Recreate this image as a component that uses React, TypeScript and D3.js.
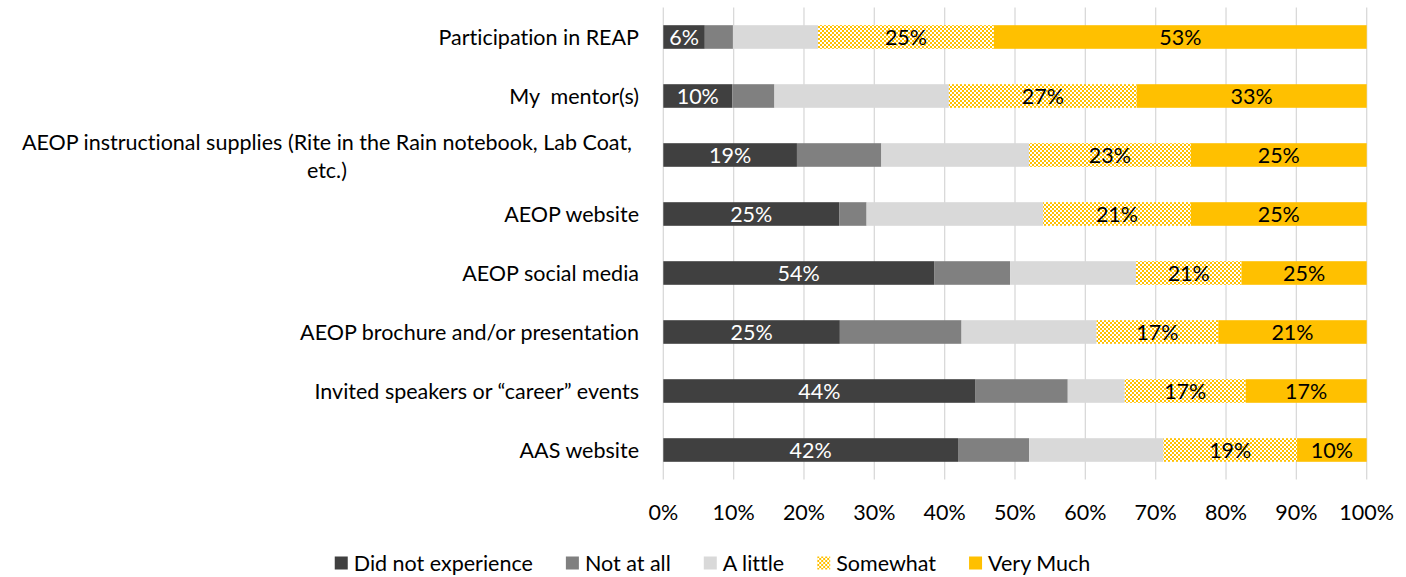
import React, { useEffect, useRef } from "react";
import * as d3 from "d3";

const categories: string[][] = [
  ["Participation in REAP"],
  ["My  mentor(s)"],
  ["AEOP instructional supplies (Rite in the Rain notebook, Lab Coat,", "etc.)"],
  ["AEOP website"],
  ["AEOP social media"],
  ["AEOP brochure and/or presentation"],
  ["Invited speakers or \u201ccareer\u201d events"],
  ["AAS website"],
];

const seriesNames = ["Did not experience", "Not at all", "A little", "Somewhat", "Very Much"];

const didNotExperience = [5.9, 9.8, 19.0, 25.0, 38.5, 25.1, 44.4, 41.9];
const notAtAll = [4.0, 6.0, 12.0, 3.9, 10.8, 17.3, 13.1, 10.1];
const aLittle = [12.1, 24.8, 21.0, 25.1, 17.9, 19.2, 8.1, 19.1];
const somewhat = [25.0, 26.7, 23.0, 21.0, 15.0, 17.3, 17.2, 19.0];
const veryMuch = [53.0, 32.7, 25.0, 25.0, 17.8, 21.1, 17.2, 9.9];

const didNotExperienceLabels = ["6%", "10%", "19%", "25%", "54%", "25%", "44%", "42%"];
const somewhatLabels = ["25%", "27%", "23%", "21%", "21%", "17%", "17%", "19%"];
const veryMuchLabels = ["53%", "33%", "25%", "25%", "25%", "21%", "17%", "10%"];

const xTicks = [0, 10, 20, 30, 40, 50, 60, 70, 80, 90, 100];

const W = 1406;
const H = 577;
const FONT = "Lato, 'Open Sans', sans-serif";
const FS = 21.5;
const TXT_STYLE = "white-space: pre; font-variant-ligatures: none;";

export default function App() {
  const ref = useRef<SVGSVGElement | null>(null);

  useEffect(() => {
    document.body.style.margin = "0";
    const svg = d3.select(ref.current);
    svg.selectAll("*").remove();

    const defs = svg.append("defs");
    const pat = defs
      .append("pattern")
      .attr("id", "checker")
      .attr("width", 4)
      .attr("height", 4)
      .attr("patternUnits", "userSpaceOnUse");
    pat.append("rect").attr("width", 4).attr("height", 4).attr("fill", "#ffffff");
    pat.append("rect").attr("x", 0).attr("y", 0).attr("width", 2).attr("height", 2).attr("fill", "#FFC000");
    pat.append("rect").attr("x", 2).attr("y", 2).attr("width", 2).attr("height", 2).attr("fill", "#FFC000");

    const colors = ["#404040", "#808080", "#D9D9D9", "url(#checker)", "#FFC000"];
    const seriesVals = [didNotExperience, notAtAll, aLittle, somewhat, veryMuch];
    const labelArrs: (string[] | null)[] = [didNotExperienceLabels, null, null, somewhatLabels, veryMuchLabels];
    const labelColors = ["#ffffff", "#000", "#000", "#000", "#000"];

    const x = d3.scaleLinear().domain([0, 100]).range([663.3, 1366.7]);
    const idx = categories.map((_, i) => String(i));
    const y = d3.scaleBand().domain(idx).range([7.5, 479.5]).paddingInner(0.6).paddingOuter(0.3);

    // gridlines
    svg
      .append("g")
      .selectAll("line")
      .data(xTicks)
      .join("line")
      .attr("x1", (d) => x(d))
      .attr("x2", (d) => x(d))
      .attr("y1", 7.5)
      .attr("y2", 479.5)
      .attr("stroke", "#D9D9D9")
      .attr("stroke-width", 1.3);

    // stacked bars
    const data = categories.map((_, i) => {
      const o: any = { key: String(i) };
      seriesNames.forEach((s, k) => (o[s] = seriesVals[k][i]));
      return o;
    });
    const stack = d3.stack<any>().keys(seriesNames)(data);

    stack.forEach((layer, k) => {
      const g = svg.append("g");
      g.selectAll("rect")
        .data(layer)
        .join("rect")
        .attr("x", (d) => x(d[0]))
        .attr("width", (d) => x(d[1]) - x(d[0]))
        .attr("y", (d) => y(d.data.key)!)
        .attr("height", y.bandwidth())
        .attr("fill", colors[k]);
      const labs = labelArrs[k];
      if (labs) {
        g.selectAll("text")
          .data(layer)
          .join("text")
          .attr("x", (d) => (x(d[0]) + x(d[1])) / 2)
          .attr("y", (d) => y(d.data.key)! + y.bandwidth() / 2)
          .attr("dy", "0.35em")
          .attr("text-anchor", "middle")
          .attr("font-family", FONT)
          .attr("font-size", FS)
          .attr("fill", labelColors[k])
          .text((_, i) => labs[i]);
      }
    });

    // category labels
    const catG = svg.append("g").attr("font-family", FONT).attr("font-size", FS).attr("fill", "#000");
    const right = 639;
    categories.forEach((lines, i) => {
      const cy = y(String(i))! + y.bandwidth() / 2;
      if (lines.length === 1) {
        catG
          .append("text")
          .attr("style", TXT_STYLE)
          .attr("xml:space", "preserve")
          .attr("x", right)
          .attr("y", cy)
          .attr("dy", "0.35em")
          .attr("text-anchor", "end")
          .text(lines[0]);
      } else {
        const lh = 28;
        const texts = lines.map((l, j) =>
          catG
            .append("text")
            .attr("style", TXT_STYLE)
            .attr("y", cy + (j - (lines.length - 1) / 2) * lh + 1)
            .attr("dy", "0.35em")
            .attr("text-anchor", "middle")
            .text(l)
        );
        const maxW = d3.max(texts, (t) => (t.node() as SVGTextElement).getComputedTextLength()) || 0;
        texts.forEach((t) => t.attr("x", right - 7 - maxW / 2));
      }
    });

    // x tick labels
    svg
      .append("g")
      .selectAll("text")
      .data(xTicks)
      .join("text")
      .attr("x", (d) => x(d))
      .attr("y", 512)
      .attr("dy", "0.35em")
      .attr("text-anchor", "middle")
      .attr("font-family", FONT)
      .attr("font-size", FS)
      .attr("fill", "#000")
      .text((d) => d + "%");

    // legend
    const legG = svg.append("g").attr("font-family", FONT).attr("font-size", FS).attr("fill", "#000");
    const sq = 13;
    const gapTxt = 6;
    const gapItem = 33;
    const items = seriesNames.map((s, k) => {
      const g = legG.append("g");
      g.append("rect").attr("width", sq).attr("height", sq).attr("y", 563 - sq / 2).attr("fill", colors[k]);
      const t = g
        .append("text")
        .attr("style", TXT_STYLE)
        .attr("x", sq + gapTxt)
        .attr("y", 563)
        .attr("dy", "0.35em")
        .text(s);
      const w = (t.node() as SVGTextElement).getComputedTextLength();
      return { g, w: sq + gapTxt + w };
    });
    const total = d3.sum(items, (d) => d.w) + gapItem * (items.length - 1);
    let cx = 712.5 - total / 2;
    items.forEach((it) => {
      it.g.attr("transform", `translate(${cx},0)`);
      cx += it.w + gapItem;
    });
  }, []);

  return <svg ref={ref} width={W} height={H} style={{ display: "block", background: "#fff" }} />;
}
